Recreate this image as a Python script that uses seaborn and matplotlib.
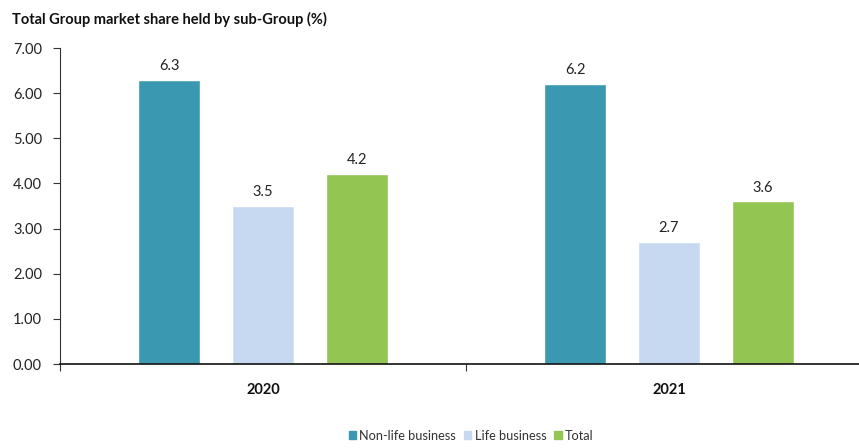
import matplotlib
matplotlib.use("Agg")
import matplotlib.pyplot as plt
import seaborn as sns
import pandas as pd

years = ["2020", "2021"]
segments = ["Non-life business", "Life business", "Total"]
non_life = [6.3, 6.2]
life = [3.5, 2.7]
total = [4.2, 3.6]
yticks = [0, 1, 2, 3, 4, 5, 6, 7]
colors = ["#3A98B1", "#C6D9F0", "#93C553"]

rows = []
for i, y in enumerate(years):
    for seg, vals in zip(segments, [non_life, life, total]):
        rows.append({"Year": y, "Segment": seg, "Share": vals[i]})
df = pd.DataFrame(rows)

sns.set_theme(style="white")
plt.rcParams["font.family"] = ["Lato", "DejaVu Sans"]

fig = plt.figure(figsize=(8.59, 4.48), dpi=100)
ax = fig.add_axes([60 / 859, 84 / 448, 812 / 859, 316 / 448])

sns.barplot(data=df, x="Year", y="Share", hue="Segment", hue_order=segments,
            palette=colors, width=0.694, gap=0.34, ax=ax, legend=True,
            errorbar=None, saturation=1)

for cont in ax.containers:
    ax.bar_label(cont, fmt="%.1f", padding=5, fontsize=10.5, color="#222222")

ax.set_ylim(0, 7)
ax.set_xlim(-0.5, 1.5)
ax.set_yticks(yticks)
ax.set_yticklabels([f"{v:.2f}" for v in yticks], fontsize=10.5, color="#222222")
ax.set_xticks([0, 1])
ax.set_xticklabels(years, fontsize=10.5, fontweight="bold", color="#111111")
ax.set_xticks([-0.5, 0.5, 1.5], minor=True)
ax.tick_params(axis="x", which="major", length=0, pad=14)
ax.tick_params(axis="x", which="minor", bottom=True, length=5, width=0.8,
               color="#333333", direction="out")
ax.tick_params(axis="y", length=5, width=0.8, color="#333333", direction="out", left=True, pad=8)
ax.set_xlabel("")
ax.set_ylabel("")

for side in ["top", "right"]:
    ax.spines[side].set_visible(False)
ax.spines["left"].set_color("#333333")
ax.spines["left"].set_linewidth(0.8)
ax.spines["bottom"].set_color("#111111")
ax.spines["bottom"].set_linewidth(1.2)

ax.legend_.remove()
handles = [plt.Rectangle((0, 0), 1, 1, color=c) for c in colors]
fig.legend(handles, segments, loc="lower center", bbox_to_anchor=(471 / 859, -0.012),
           ncol=3, frameon=False, fontsize=9.2, handlelength=0.6, handleheight=0.6,
           handletextpad=0.25, columnspacing=0.6, labelcolor="#333333")

fig.text(12 / 859, 1 - 19 / 448, "Total Group market share held by sub-Group (%)",
         fontsize=10.5, fontweight="bold", color="#111111", va="center", ha="left")

fig.savefig("out.png", dpi=100)
